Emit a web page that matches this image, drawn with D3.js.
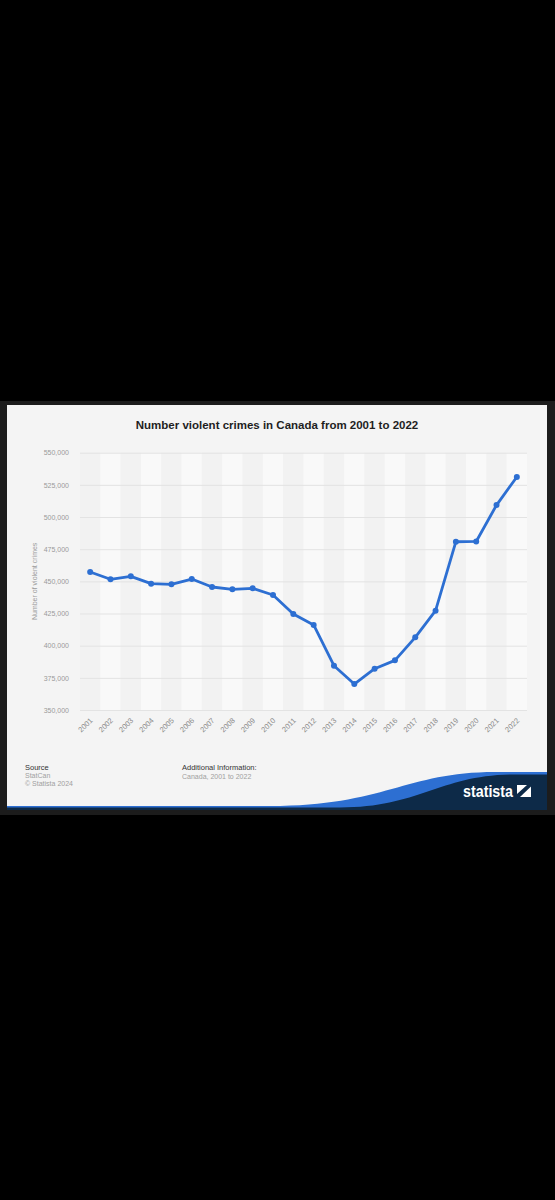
<!DOCTYPE html>
<html>
<head>
<meta charset="utf-8">
<script src="https://cdn.jsdelivr.net/npm/d3@7"></script>
<style>
  body { margin: 0; background: #000; }
  svg { display: block; font-family: "Liberation Sans", Arial, sans-serif; }
</style>
</head>
<body>
<svg id="chart" width="555" height="1200"></svg>
<script>
// data
const years = ["2001","2002","2003","2004","2005","2006","2007","2008","2009","2010","2011",
               "2012","2013","2014","2015","2016","2017","2018","2019","2020","2021","2022"];
const crimes = [457300, 451600, 453900, 448200, 447700, 451800, 445600, 443800, 444600, 439400, 424600,
                416100, 384400, 370200, 382100, 388600, 406500, 427200, 480800, 481000, 509300, 531100];
const yTicks = [350000, 375000, 400000, 425000, 450000, 475000, 500000, 525000, 550000];

const title = "Number violent crimes in Canada from 2001 to 2022";
const yTitle = "Number of violent crimes";

const svg = d3.select("#chart");

// card frame
svg.append("rect").attr("x", 0).attr("y", 401).attr("width", 555).attr("height", 414).attr("fill", "#1c1c1c");
svg.append("rect").attr("x", 7).attr("y", 405).attr("width", 540).attr("height", 405).attr("fill", "#f4f4f4");

const plot = { left: 80, right: 527, top: 452.7, bottom: 710 };

const x = d3.scaleBand().domain(years).range([plot.left, plot.right]);
const y = d3.scaleLinear().domain([350000, 550000]).range([plot.bottom, plot.top]);

// alternating column stripes
svg.append("g").selectAll("rect")
    .data(years)
    .enter()
  .append("rect")
    .attr("x", d => x(d))
    .attr("y", plot.top)
    .attr("width", x.bandwidth())
    .attr("height", plot.bottom - plot.top)
    .attr("fill", (d, i) => i % 2 ? "#f9f9f9" : "#f2f2f2");

// y axis with grid
const yAxis = svg.append("g")
    .attr("transform", "translate(" + plot.left + ",0)")
    .call(d3.axisLeft(y).tickValues(yTicks).tickSize(-(plot.right - plot.left)).tickPadding(11)
          .tickFormat(d3.format(",")));
yAxis.select(".domain").remove();
yAxis.selectAll("line").attr("stroke", "#e3e3e3").attr("stroke-width", 1);
yAxis.selectAll("text")
    .attr("fill", "#9a9a9a")
    .style("font-size", "7px");

// x axis labels
const xAxis = svg.append("g")
    .attr("transform", "translate(0," + plot.bottom + ")")
    .call(d3.axisBottom(x).tickSize(0).tickPadding(0));
xAxis.select(".domain").remove();
xAxis.selectAll("text")
    .attr("fill", "#8a8a8a")
    .style("font-size", "7.5px")
    .attr("text-anchor", "end")
    .attr("dy", 0)
    .attr("y", 0)
    .attr("transform", "translate(3,11)rotate(-45)");

// axis title
svg.append("text")
    .attr("transform", "translate(37," + ((plot.top + plot.bottom) / 2) + ")rotate(-90)")
    .attr("text-anchor", "middle")
    .attr("fill", "#9a9a9a")
    .style("font-size", "7px")
    .text(yTitle);

// line and points
const line = d3.line()
    .x((d, i) => x(years[i]) + x.bandwidth() / 2)
    .y(d => y(d));

svg.append("path")
    .datum(crimes)
    .attr("fill", "none")
    .attr("stroke", "#2d6fd2")
    .attr("stroke-width", 2.8)
    .attr("stroke-linejoin", "round")
    .attr("d", line);

svg.append("g").selectAll("circle")
    .data(crimes)
    .enter()
  .append("circle")
    .attr("cx", (d, i) => x(years[i]) + x.bandwidth() / 2)
    .attr("cy", d => y(d))
    .attr("r", 3)
    .attr("fill", "#2d6fd2");

// title
svg.append("text")
    .attr("x", 277)
    .attr("y", 429)
    .attr("text-anchor", "middle")
    .attr("fill", "#1e1e1e")
    .style("font-size", "11.5px")
    .style("font-weight", "bold")
    .text(title);

// footer
const foot = svg.append("g").style("font-size", "7.5px");
foot.append("text").attr("x", 25).attr("y", 769.5).attr("fill", "#333").text("Source");
foot.append("text").attr("x", 25).attr("y", 778).attr("fill", "#a0a0a0").style("font-size", "7px").text("StatCan");
foot.append("text").attr("x", 25).attr("y", 786.3).attr("fill", "#a0a0a0").style("font-size", "7px").text("© Statista 2024");
foot.append("text").attr("x", 182).attr("y", 769.5).attr("fill", "#333").text("Additional Information:");
foot.append("text").attr("x", 182).attr("y", 778.5).attr("fill", "#a0a0a0").style("font-size", "7px").text("Canada, 2001 to 2022");

// statista logo band
svg.append("path")
    .attr("fill", "#2d6fd2")
    .attr("d", "M7,806 L270,806 C385,806 405,772 495,772 L547,772 L547,810 L7,810 Z");
svg.append("path")
    .attr("fill", "#0d2a48")
    .attr("d", "M7,807.5 L340,807.5 C420,807.5 440,774.5 515,774.5 L547,774.5 L547,810 L7,810 Z");

svg.append("text")
    .attr("x", 463)
    .attr("y", 797)
    .attr("fill", "#fff")
    .style("font-size", "16px")
    .style("font-weight", "bold")
    .attr("textLength", 50)
    .attr("lengthAdjust", "spacingAndGlyphs")
    .text("statista");

svg.append("rect").attr("x", 517).attr("y", 785).attr("width", 14).attr("height", 12).attr("fill", "#fff");
svg.append("path").attr("fill", "#0d2a48")
    .attr("d", "M517,794 L527,785 L531,785 L531,786.5 L520,797 L517,797 Z");
</script>
</body>
</html>
